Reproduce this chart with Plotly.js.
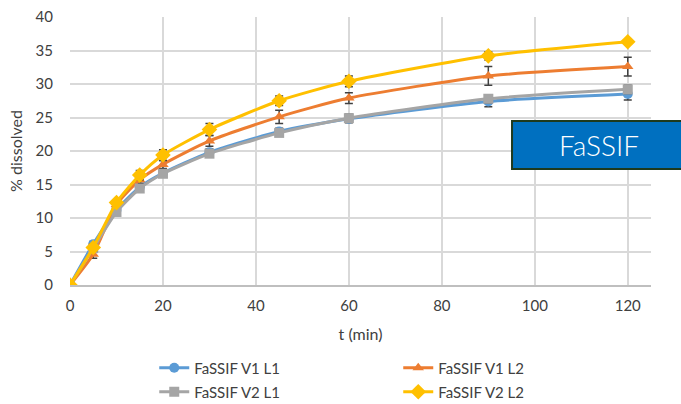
<!DOCTYPE html>
<html>
<head>
<meta charset="utf-8">
<script src="https://cdn.plot.ly/plotly-3.0.1.min.js"></script>
<style>html,body{margin:0;padding:0;background:#fff}#chart{width:681px;height:404px}</style>
</head>
<body>
<div id="chart"></div>
<script>
var time = [0, 5, 10, 15, 20, 30, 45, 60, 90, 120];
var v1l1 = [0, 6.1, 11.2, 14.6, 16.7, 19.8, 22.9, 24.8, 27.4, 28.5];
var v1l2 = [0, 4.6, 12.0, 15.7, 18.0, 21.5, 25.1, 27.9, 31.2, 32.6];
var v2l1 = [0, 5.5, 10.9, 14.4, 16.6, 19.6, 22.7, 24.9, 27.8, 29.2];
var v2l2 = [0, 5.6, 12.3, 16.4, 19.4, 23.2, 27.5, 30.4, 34.2, 36.3];
var e1l1 = [0, 0.4, 0.3, 0.4, 0.5, 0.5, 0.5, 0.6, 0.8, 0.9];
var e1l2 = [0, 0.6, 0.4, 0.5, 0.6, 0.8, 1.0, 0.8, 1.4, 1.4];
var e2l1 = [0, 0.5, 0.4, 0.4, 0.5, 0.5, 0.5, 0.6, 0.6, 0.6];
var e2l2 = [0, 0.5, 0.4, 0.7, 0.8, 0.9, 0.7, 0.8, 0.6, 0.3];
var names = ["FaSSIF V1 L1", "FaSSIF V1 L2", "FaSSIF V2 L1", "FaSSIF V2 L2"];
var colors = ["#5B9BD5", "#ED7D31", "#A5A5A5", "#FFC000"];
var symbols = ["circle", "triangle-up", "square", "diamond"];
var legends = ["legend", "legend", "legend2", "legend2"];
var series = [v1l1, v1l2, v2l1, v2l2];
var errs = [e1l1, e1l2, e2l1, e2l2];

var data = series.map(function (s, i) {
  return {
    x: time, y: s, name: names[i], type: "scatter", mode: "lines+markers",
    legend: legends[i],
    line: {color: colors[i], width: 3, shape: "spline", smoothing: 0.6},
    marker: {color: colors[i], symbol: symbols[i], size: symbols[i] === "diamond" ? 12 : 10},
    error_y: {type: "data", array: errs[i], visible: true, color: "#404040", thickness: 1.5, width: 4}
  };
});

var fam = "Lato, 'Open Sans', sans-serif";
var font = {family: fam, size: 15, color: "#404040"};
var legFont = {family: fam, size: 15, color: "#404040"};
function leg(y) {
  return {
    orientation: "h", x: 0.145, xanchor: "left", y: y, yanchor: "middle",
    entrywidth: 199, entrywidthmode: "pixels",
    font: legFont, itemwidth: 30, bgcolor: "rgba(0,0,0,0)"
  };
}
var layout = {
  width: 681, height: 404,
  margin: {l: 70, r: 30, t: 17, b: 119, autoexpand: false},
  paper_bgcolor: "#fff", plot_bgcolor: "#fff",
  font: font,
  showlegend: true,
  xaxis: {
    range: [0, 125], dtick: 20, tick0: 0,
    showgrid: true, gridcolor: "#d9d9d9", gridwidth: 1.5,
    zeroline: false, showline: true, linecolor: "#bfbfbf", linewidth: 2,
    ticks: "outside", ticklen: 6, tickcolor: "rgba(0,0,0,0)", tickfont: font,
    title: {text: "t (min)", font: {family: fam, size: 16, color: "#404040"}, standoff: 16}
  },
  yaxis: {
    range: [0, 40], dtick: 5,
    showgrid: true, gridcolor: "#d9d9d9", gridwidth: 1.5,
    zeroline: false, showline: false,
    ticks: "outside", ticklen: 13, tickcolor: "rgba(0,0,0,0)", tickfont: font,
    title: {text: "% dissolved", font: {family: fam, size: 16, color: "#404040"}, standoff: 8}
  },
  legend: leg(-0.31),
  legend2: leg(-0.399),
  shapes: [{
    type: "rect", xref: "paper", yref: "paper",
    x0: 0.7608, x1: 1.09, y0: 0.433, y1: 0.612,
    fillcolor: "#0070C0", line: {color: "#1E3A1E", width: 2}
  }],
  annotations: [{
    xref: "paper", yref: "paper", x: 0.91, y: 0.522, xanchor: "center", yanchor: "middle",
    text: "FaSSIF", showarrow: false,
    font: {family: fam, size: 28, color: "#fff", weight: 300}
  }]
};
Plotly.newPlot("chart", data, layout, {displayModeBar: false});
</script>
</body>
</html>
